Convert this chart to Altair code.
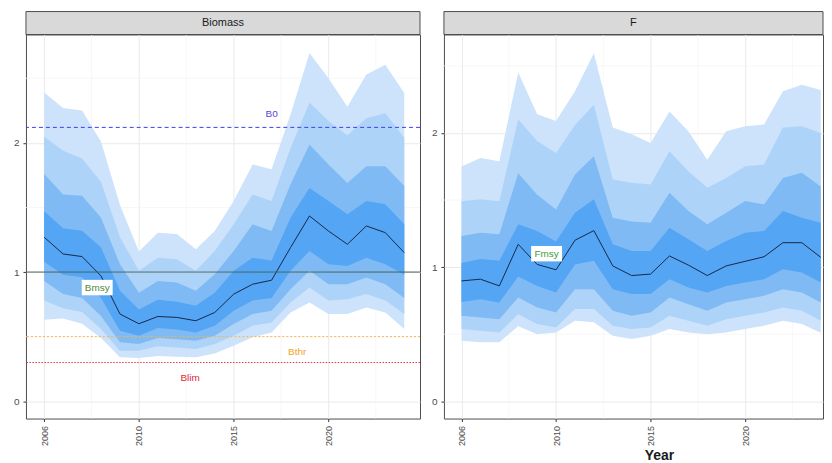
import altair as alt
import pandas as pd

# ---------------- data ----------------
years = list(range(2005, 2025))
tick_years = [2005, 2010, 2015, 2020]
tick_labels = ["2006", "2010", "2015", "2020"]
minor_x = [2007.5, 2012.5, 2017.5, 2022.5]
major_y = [0, 1, 2]
minor_y = [0.5, 1.5, 2.5]

# Biomass panel: median and four nested quantile bands (1 = widest)
bio_med = [1.27, 1.14, 1.12, 0.97, 0.675, 0.60, 0.656, 0.649, 0.623, 0.687,
           0.829, 0.906, 0.937, 1.19, 1.434, 1.318, 1.215, 1.357, 1.305, 1.15]
bio_b4_hi = [1.47, 1.34, 1.32, 1.19, 0.855, 0.71, 0.785, 0.77, 0.74, 0.84,
             1.01, 1.11, 1.09, 1.42, 1.65, 1.55, 1.447, 1.55, 1.524, 1.37]
bio_b4_lo = [1.08, 0.98, 0.96, 0.80, 0.546, 0.507, 0.567, 0.555, 0.533, 0.585,
             0.70, 0.78, 0.80, 1.01, 1.163, 1.06, 1.047, 1.11, 1.06, 0.98]
bio_b3_hi = [1.76, 1.60, 1.59, 1.42, 1.06, 0.84, 0.93, 0.92, 0.855, 0.984,
             1.163, 1.37, 1.318, 1.68, 1.987, 1.833, 1.69, 1.82, 1.82, 1.666]
bio_b3_lo = [0.93, 0.83, 0.80, 0.66, 0.456, 0.443, 0.49, 0.48, 0.469, 0.507,
             0.597, 0.675, 0.70, 0.867, 1.01, 0.906, 0.906, 0.957, 0.906, 0.80]
bio_b2_hi = [2.05, 1.94, 1.88, 1.70, 1.27, 1.01, 1.11, 1.10, 1.01, 1.163,
             1.37, 1.60, 1.55, 1.96, 2.31, 2.17, 2.06, 2.19, 2.23, 2.04]
bio_b2_lo = [0.78, 0.72, 0.69, 0.56, 0.39, 0.39, 0.425, 0.416, 0.405, 0.443,
             0.507, 0.585, 0.61, 0.765, 0.88, 0.78, 0.79, 0.83, 0.78, 0.675]
bio_b1_hi = [2.39, 2.27, 2.25, 2.01, 1.52, 1.16, 1.305, 1.295, 1.177, 1.318,
             1.55, 1.833, 1.795, 2.22, 2.695, 2.50, 2.28, 2.53, 2.605, 2.386]
bio_b1_lo = [0.63, 0.64, 0.60, 0.49, 0.34, 0.335, 0.35, 0.345, 0.34, 0.37,
             0.43, 0.495, 0.533, 0.687, 0.765, 0.675, 0.675, 0.726, 0.687, 0.559]

# F panel
f_med = [0.897, 0.91, 0.86, 1.17, 1.02, 0.98, 1.20, 1.272, 1.009, 0.937,
         0.948, 1.083, 1.015, 0.937, 1.009, 1.043, 1.077, 1.182, 1.182, 1.073]
f_b4_hi = [1.03, 1.06, 1.047, 1.319, 1.27, 1.19, 1.405, 1.505, 1.17, 1.12,
           1.12, 1.294, 1.207, 1.12, 1.195, 1.257, 1.269, 1.418, 1.368, 1.33]
f_b4_lo = [0.74, 0.76, 0.736, 0.93, 0.86, 0.81, 1.02, 1.047, 0.835, 0.80,
           0.80, 0.91, 0.848, 0.81, 0.86, 0.885, 0.91, 0.984, 0.96, 0.885]
f_b3_hi = [1.232, 1.256, 1.245, 1.70, 1.54, 1.43, 1.69, 1.827, 1.368, 1.34,
           1.33, 1.554, 1.418, 1.319, 1.405, 1.492, 1.467, 1.665, 1.703, 1.60]
f_b3_lo = [0.637, 0.625, 0.612, 0.773, 0.699, 0.662, 0.835, 0.835, 0.674, 0.637,
           0.662, 0.773, 0.724, 0.674, 0.736, 0.76, 0.786, 0.835, 0.81, 0.736]
f_b2_hi = [1.49, 1.505, 1.49, 2.10, 1.94, 1.85, 2.06, 2.21, 1.653, 1.628,
           1.616, 1.864, 1.715, 1.591, 1.665, 1.752, 1.765, 2.04, 2.05, 2.0]
f_b2_lo = [0.538, 0.526, 0.513, 0.649, 0.575, 0.55, 0.687, 0.687, 0.563, 0.538,
           0.55, 0.637, 0.60, 0.563, 0.612, 0.637, 0.662, 0.699, 0.674, 0.60]
f_b1_hi = [1.75, 1.814, 1.79, 2.45, 2.14, 2.09, 2.31, 2.595, 2.04, 1.99,
           1.926, 2.16, 2.013, 1.80, 2.013, 2.05, 2.063, 2.31, 2.36, 2.32]
f_b1_lo = [0.451, 0.44, 0.44, 0.56, 0.50, 0.513, 0.60, 0.589, 0.488, 0.464,
           0.488, 0.538, 0.513, 0.50, 0.513, 0.538, 0.563, 0.60, 0.575, 0.51]

# Reference points
bio_ref_names = ["B0", "Bmsy", "Bthr", "Blim"]
bio_ref_values = [2.12, 1.0, 0.5, 0.3]
bio_ref_colors = ["#3d3df2", "#46604f", "#f7b54a", "#ec3345"]
bio_ref_dash = [[4, 3], [1, 0], [2, 2], [1.5, 1.5]]
bio_label_x = [2017.0, 2007.8, 2018.35, 2012.7]
bio_label_y = [2.22, 0.88, 0.38, 0.18]
bio_label_colors = ["#5b3fe0", "#4f8a3a", "#f2a526", "#e3263b"]
bio_label_boxed = [False, True, False, False]

f_label_names = ["Fmsy"]
f_label_x = [2009.5]
f_label_y = [1.10]
f_label_colors = ["#3f9a3a"]
f_label_boxed = [True]

band_colors = ["#cde3fb", "#aed3f8", "#7fbaf5", "#54a5f4"]
FONT = "Liberation Sans"
H = 385


def make_panel(title, med, bands, ydom, xdom, width, ref_vals, ref_cols, ref_dash,
               lab_names, lab_x, lab_y, lab_cols, lab_boxed, show_year):
    df = pd.DataFrame({"year": years, "med": med})
    for i, (lo, hi) in enumerate(bands, start=1):
        df[f"lo{i}"] = lo
        df[f"hi{i}"] = hi

    label_expr = " : ".join(
        f"datum.value == {v} ? '{t}'" for v, t in zip(tick_years, tick_labels)
    ) + " : ''"
    xscale = alt.Scale(domain=xdom, nice=False, zero=False)
    xaxis = alt.Axis(values=tick_years, labelExpr=label_expr, labelAngle=270,
                     labelAlign="right", labelBaseline="middle", title=None,
                     grid=True, gridColor="#e9e9e9", gridWidth=1)
    yscale = alt.Scale(domain=ydom, nice=False, zero=False)
    yaxis = alt.Axis(values=major_y, format="d", title=None, grid=True,
                     gridColor="#e9e9e9", gridWidth=1)

    def X(field):
        return alt.X(field, scale=xscale, axis=xaxis, title=None)

    def Y(field):
        return alt.Y(field, scale=yscale, axis=yaxis, title=None)

    base = alt.Chart(df)
    layers = []
    # minor grid
    layers.append(alt.Chart(pd.DataFrame({"x": minor_x})).mark_rule(
        color="#f3f3f3", strokeWidth=0.7).encode(x=X("x:Q")))
    layers.append(alt.Chart(pd.DataFrame({"y": minor_y})).mark_rule(
        color="#f3f3f3", strokeWidth=0.7).encode(y=Y("y:Q")))
    for i, c in enumerate(band_colors, start=1):
        layers.append(base.mark_area(color=c, opacity=1).encode(
            x=X("year:Q"), y=Y(f"lo{i}:Q"), y2=f"hi{i}:Q"))
    layers.append(base.mark_line(color="#17284a", strokeWidth=1).encode(
        x=X("year:Q"), y=Y("med:Q")))

    for v, c, d in zip(ref_vals, ref_cols, ref_dash):
        layers.append(alt.Chart(pd.DataFrame({"v": [v]})).mark_rule(
            color=c, strokeWidth=1, strokeDash=d).encode(y=Y("v:Q")))

    lab_df = pd.DataFrame({"name": lab_names, "x": lab_x, "y": lab_y,
                           "col": lab_cols, "boxed": lab_boxed})
    boxed = lab_df[lab_df["boxed"]]
    if len(boxed):
        layers.append(alt.Chart(boxed).mark_point(
            shape="M-1,-0.5L1,-0.5L1,0.5L-1,0.5Z", filled=True, fill="white",
            opacity=1, size=960, strokeWidth=0).encode(x=X("x:Q"), y=Y("y:Q")))
    layers.append(alt.Chart(lab_df).mark_text(font=FONT, fontSize=10).encode(
        x=X("x:Q"), y=Y("y:Q"), text="name:N",
        color=alt.Color("col:N", scale=None),
    ))

    strip_df = pd.DataFrame({"t": [title]})
    layers.append(alt.Chart(strip_df).mark_rect(
        fill="#d9d9d9", stroke="#4d4d4d", strokeWidth=1).encode(
        x=alt.value(0), x2=alt.value(width), y=alt.value(-23), y2=alt.value(0)))
    layers.append(alt.Chart(strip_df).mark_text(
        font=FONT, fontSize=11, color="#1a1a1a").encode(
        x=alt.value(width / 2), y=alt.value(-11.5), text="t:N"))
    if show_year:
        layers.append(alt.Chart(pd.DataFrame({"t": ["Year"]})).mark_text(
            font=FONT, fontSize=14, fontWeight="bold", color="#1a1a1a").encode(
            x=alt.value(216), y=alt.value(H + 38), text="t:N"))

    return alt.layer(*layers).properties(width=width, height=H)


bio = make_panel(
    "Biomass", bio_med,
    [(bio_b1_lo, bio_b1_hi), (bio_b2_lo, bio_b2_hi), (bio_b3_lo, bio_b3_hi), (bio_b4_lo, bio_b4_hi)],
    [-0.134, 2.839], [2004.04, 2024.83], 395,
    bio_ref_values, bio_ref_colors, bio_ref_dash,
    bio_ref_names, bio_label_x, bio_label_y, bio_label_colors, bio_label_boxed, False)

fpan = make_panel(
    "F", f_med,
    [(f_b1_lo, f_b1_hi), (f_b2_lo, f_b2_hi), (f_b3_lo, f_b3_hi), (f_b4_lo, f_b4_hi)],
    [-0.129, 2.734], [2004.07, 2024.12], 380,
    [], [], [],
    f_label_names, f_label_x, f_label_y, f_label_colors, f_label_boxed, True)

chart = alt.hconcat(bio, fpan, spacing=9).properties(
    padding={"left": 4, "top": 2, "right": 0, "bottom": 0}
).configure_view(
    stroke="#4d4d4d", strokeWidth=1
).configure_axis(
    domain=False, tickColor="#333333", tickSize=3, labelColor="#4d4d4d",
    labelFont=FONT, labelPadding=4
).configure_axisX(labelFontSize=9).configure_axisY(labelFontSize=10)

chart.save("out.html", embed_options={"renderer": "svg", "actions": False})
